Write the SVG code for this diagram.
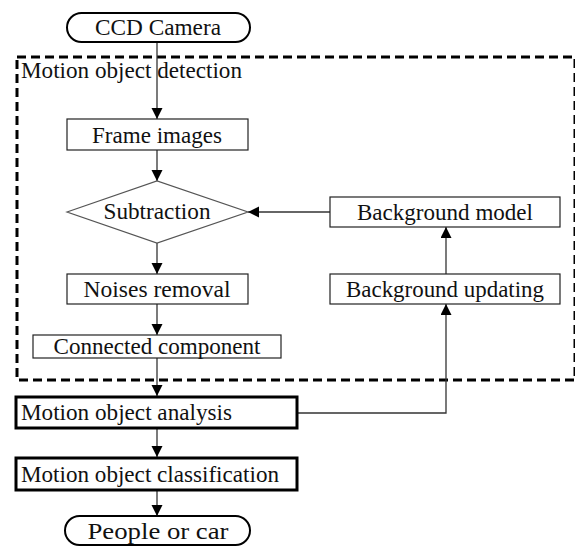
<svg xmlns="http://www.w3.org/2000/svg" width="575" height="551" viewBox="0 0 575 551">
<defs>
<marker id="ah" markerUnits="userSpaceOnUse" markerWidth="12" markerHeight="12" refX="11" refY="5.5" orient="auto">
<path d="M0,0 L11,5.5 L0,11 z" fill="#000"/>
</marker>
<style>
text{font-family:"Liberation Serif","Times New Roman",serif;font-size:23.5px;fill:#111}
.c{text-anchor:middle}
.box{fill:#fff;stroke:#222;stroke-width:1.2}
.thick{fill:#fff;stroke:#000;stroke-width:3}
.term{fill:#fff;stroke:#000;stroke-width:2}
.dia{fill:#fff;stroke:#555;stroke-width:1.2}
.ln{fill:none;stroke:#333;stroke-width:1.3;marker-end:url(#ah)}
</style>
</defs>
<rect width="575" height="551" fill="#fff"/>
<g id="detection-region">
<rect x="17" y="57" width="558" height="323" fill="none" stroke="#000" stroke-width="3" stroke-dasharray="9,5"/>
<text x="21" y="78" textLength="221" lengthAdjust="spacingAndGlyphs">Motion object detection</text>
</g>
<g id="connectors">
<line class="ln" x1="157" y1="42" x2="157" y2="119"/>
<line class="ln" x1="157" y1="150" x2="157" y2="181"/>
<line class="ln" x1="330" y1="212" x2="248" y2="212"/>
<line class="ln" x1="157" y1="243" x2="157" y2="274"/>
<line class="ln" x1="446" y1="274" x2="446" y2="227"/>
<line class="ln" x1="157" y1="304" x2="157" y2="335"/>
<line class="ln" x1="157" y1="358" x2="157" y2="396"/>
<polyline class="ln" points="297,413 446,413 446,304"/>
<line class="ln" x1="157" y1="428" x2="157" y2="457"/>
<line class="ln" x1="157" y1="490" x2="157" y2="516"/>
</g>
<g id="ccd-camera">
<rect class="term" x="67" y="13" width="183" height="29" rx="14.5"/>
<text class="c" x="158" y="35" textLength="126" lengthAdjust="spacingAndGlyphs">CCD Camera</text>
</g>
<g id="frame-images">
<rect class="box" x="67" y="119" width="181" height="31"/>
<text class="c" x="157" y="143" textLength="130" lengthAdjust="spacingAndGlyphs">Frame images</text>
</g>
<g id="subtraction">
<polygon class="dia" points="67,212 157,181 248,212 157,243"/>
<text class="c" x="157" y="219" textLength="107" lengthAdjust="spacingAndGlyphs">Subtraction</text>
</g>
<g id="background-model">
<rect class="box" x="330" y="197" width="230" height="30"/>
<text class="c" x="445" y="220" textLength="176" lengthAdjust="spacingAndGlyphs">Background model</text>
</g>
<g id="background-updating">
<rect class="box" x="330" y="274" width="230" height="30"/>
<text class="c" x="445" y="297" textLength="198" lengthAdjust="spacingAndGlyphs">Background updating</text>
</g>
<g id="noises-removal">
<rect class="box" x="67" y="274" width="181" height="30"/>
<text class="c" x="157" y="297" textLength="147" lengthAdjust="spacingAndGlyphs">Noises removal</text>
</g>
<g id="connected-component">
<rect class="box" x="33" y="335" width="248" height="23"/>
<text class="c" x="157" y="354" textLength="207" lengthAdjust="spacingAndGlyphs">Connected component</text>
</g>
<g id="motion-object-analysis">
<rect class="thick" x="16" y="397" width="281" height="31"/>
<text x="21" y="420" textLength="211" lengthAdjust="spacingAndGlyphs">Motion object analysis</text>
</g>
<g id="motion-object-classification">
<rect class="thick" x="16" y="458" width="281" height="32"/>
<text x="21" y="482" textLength="258" lengthAdjust="spacingAndGlyphs">Motion object classification</text>
</g>
<g id="people-or-car">
<rect class="term" x="65" y="516" width="185" height="29" rx="14.5"/>
<text class="c" x="158" y="539" textLength="141" lengthAdjust="spacingAndGlyphs">People or car</text>
</g>
</svg>
